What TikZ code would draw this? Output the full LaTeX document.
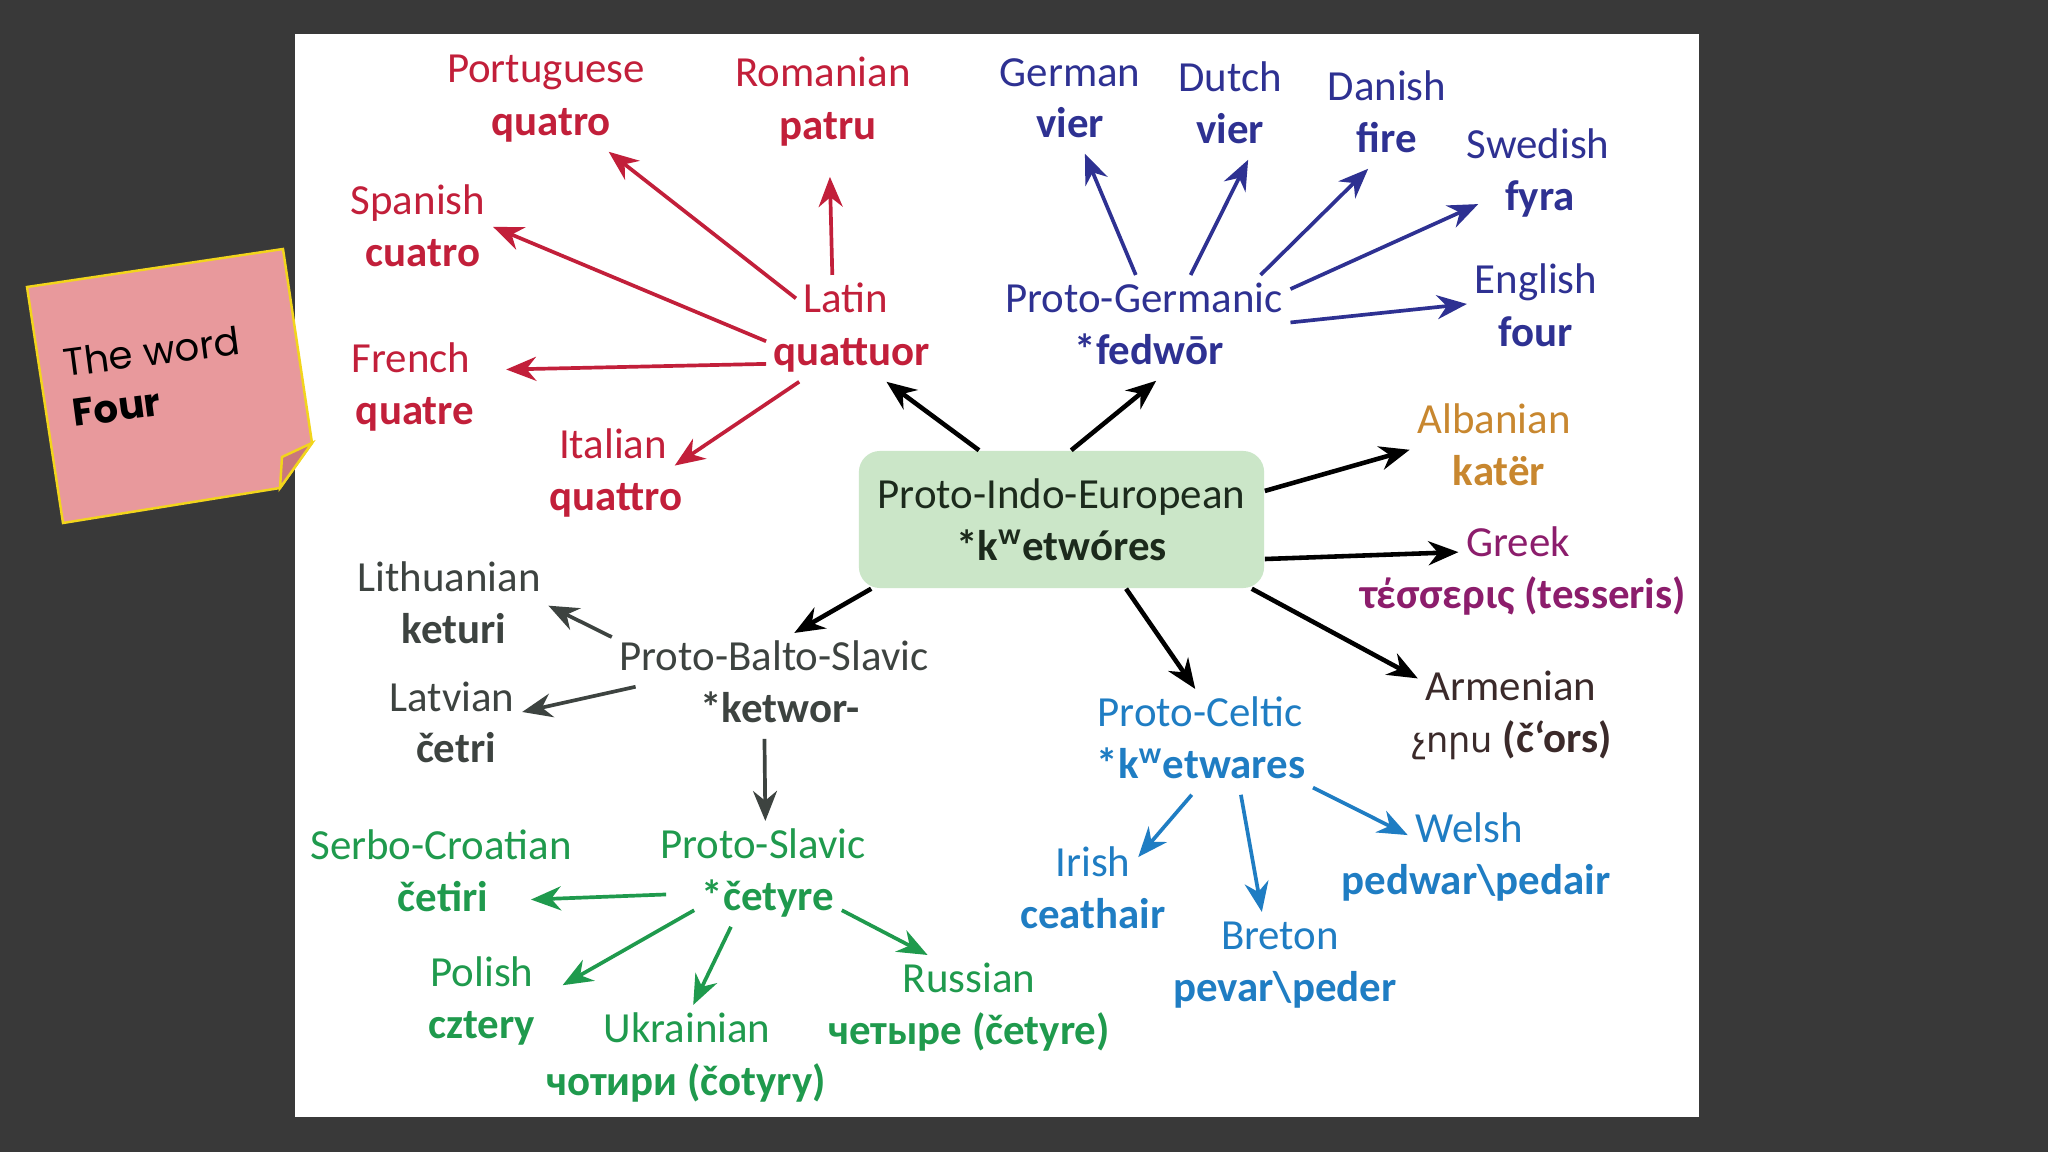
\documentclass[tikz,border=0pt]{standalone}
\usepackage{fontspec}
\setmainfont{Carlito}
\newfontfamily\armfont{DejaVu Sans}
\newfontfamily\notefont{Poppins}
\usetikzlibrary{arrows.meta}

\definecolor{bgcol}{HTML}{393939}
\definecolor{romred}{HTML}{C21F3A}
\definecolor{germ}{HTML}{2E3192}
\definecolor{celt}{HTML}{1F7DC3}
\definecolor{slav}{HTML}{1F9A4D}
\definecolor{balt}{HTML}{3D4340}
\definecolor{albcol}{HTML}{C8872F}
\definecolor{grecol}{HTML}{8C1D6C}
\definecolor{armcol}{HTML}{3B2A2A}
\definecolor{piefill}{HTML}{CBE6C8}
\definecolor{pietext}{HTML}{1C2A1C}
\definecolor{notefill}{HTML}{E8999C}
\definecolor{notefold}{HTML}{C9787C}
\definecolor{noteedge}{HTML}{F2D51C}

\begin{document}
\begin{tikzpicture}[x=0.01cm, y=-0.01cm,
    lang/.style={text=#1, font=\fontsize{12.2}{14.8}\selectfont,
        text height=8.5pt, text depth=2.4pt, inner sep=2pt, yshift=-1.1pt},
    word/.style={lang=#1, font=\fontsize{12.2}{14.8}\selectfont\bfseries},
    arr/.style={-{Stealth[length=3mm, width=2.4mm]}, line width=1.05pt, #1},
    blk/.style={arr=black, line width=1.3pt},
    pie/.style={fill=piefill, rounded corners=6pt, minimum width=4.05cm,
        minimum height=1.37cm, align=center, text=pietext, inner sep=0pt,
        font=\fontsize{12.2}{14.8}\selectfont},
    notetxt/.style={anchor=base west, rotate=7.5, inner sep=0pt,
        font=\notefont\fontsize{11}{13}\selectfont}]

    % slide and panel
    \fill[bgcol] (0,0) rectangle (2048,1152);
    \fill[white] (295,34) rectangle (1699,1117);

    % sticky note
    \filldraw[fill=notefill, draw=noteedge, line width=0.7pt]
        (27,287) -- (283,249) -- (312,443) -- (280,488) -- (63,523) -- cycle;
    \filldraw[fill=notefold, draw=noteedge, line width=0.7pt]
        (312,443) -- (282,457) -- (280,488) -- cycle;
    \node[notetxt] (note1) at (65,377) {The word};
    \node[notetxt, font=\notefont\fontsize{11}{13}\selectfont\bfseries]
        (note2) at (74,427) {Four};

    \node[pie] (pie) at (1061.5,519.5)
        {Proto-Indo-European\\\textbf{*k\textsuperscript{w}etwóres}};

    % Romance
    \node[lang=romred] (lat) at (846,298) {Latin};
    \node[word=romred] (latw) at (852,351) {quattuor};
    \node[lang=romred] (por) at (546,68) {Portuguese};
    \node[word=romred] (porw) at (551,121) {quatro};
    \node[lang=romred] (rom) at (823,72) {Romanian};
    \node[word=romred] (romw) at (828,125) {patru};
    \node[lang=romred] (spa) at (418,200) {Spanish};
    \node[word=romred] (spaw) at (423,252) {cuatro};
    \node[lang=romred] (fre) at (411,358) {French};
    \node[word=romred] (frew) at (415,410) {quatre};
    \node[lang=romred] (ita) at (613,444) {Italian};
    \node[word=romred] (itaw) at (616,496) {quattro};

    % Germanic
    \node[lang=germ] (pgm) at (1144,298) {Proto-Germanic};
    \node[word=germ] (pgmw) at (1149,350) {*fedwōr};
    \node[lang=germ] (ger) at (1070,72) {German};
    \node[word=germ] (gerw) at (1070,123) {vier};
    \node[lang=germ] (dut) at (1230,77) {Dutch};
    \node[word=germ] (dutw) at (1230,129) {vier};
    \node[lang=germ] (dan) at (1387,86) {Danish};
    \node[word=germ] (danw) at (1387,138) {fire};
    \node[lang=germ] (swe) at (1538,144) {Swedish};
    \node[word=germ] (swew) at (1540,196) {fyra};
    \node[lang=germ] (eng) at (1536,279) {English};
    \node[word=germ] (engw) at (1536,332) {four};

    % Albanian, Greek, Armenian
    \node[lang=albcol] (alb) at (1494,419) {Albanian};
    \node[word=albcol] (albw) at (1499,471) {katër};
    \node[lang=grecol] (gre) at (1518,542) {Greek};
    \node[word=grecol] (grew) at (1523,594) {τέσσερις (tesseris)};
    \node[lang=armcol] (arm) at (1511,686) {Armenian};
    \node[word=armcol] (armw) at (1512,738)
        {{\armfont\mdseries\fontsize{10}{12}\selectfont չորս} (č‘ors)};

    % Celtic
    \node[lang=celt] (pcl) at (1200,712) {Proto-Celtic};
    \node[word=celt] (pclw) at (1201,764) {*k\textsuperscript{w}etwares};
    \node[lang=celt] (iri) at (1093,862) {Irish};
    \node[word=celt] (iriw) at (1093,914) {ceathair};
    \node[lang=celt] (bre) at (1280,935) {Breton};
    \node[word=celt] (brew) at (1285,987) {pevar\textbackslash peder};
    \node[lang=celt] (wel) at (1469,828) {Welsh};
    \node[word=celt] (welw) at (1476,880) {pedwar\textbackslash pedair};

    % Balto-Slavic
    \node[lang=balt] (pbs) at (774,656) {Proto-Balto-Slavic};
    \node[word=balt] (pbsw) at (780,708) {*ketwor-};
    \node[lang=balt] (lit) at (449,577) {Lithuanian};
    \node[word=balt] (litw) at (454,629) {keturi};
    \node[lang=balt] (lav) at (452,697) {Latvian};
    \node[word=balt] (lavw) at (456,748) {četri};

    % Slavic
    \node[lang=slav] (psl) at (763,844) {Proto-Slavic};
    \node[word=slav] (pslw) at (768,896) {*četyre};
    \node[lang=slav] (src) at (441,845) {Serbo-Croatian};
    \node[word=slav] (srcw) at (443,897) {četiri};
    \node[lang=slav] (pol) at (482,972) {Polish};
    \node[word=slav] (polw) at (482,1024) {cztery};
    \node[lang=slav] (ukr) at (687,1028) {Ukrainian};
    \node[word=slav] (ukrw) at (686,1081) {чотири (čotyry)};
    \node[lang=slav] (rus) at (969,978) {Russian};
    \node[word=slav] (rusw) at (969,1030) {четыре (četyre)};

    % arrows
    \draw[blk] (pie.140) -- (latw.-38);
    \draw[blk] (pie.82) -- (pgmw.-75);
    \draw[blk] (pie.8) -- (alb.south west);
    \draw[blk] (pie.-11) -- (gre.186);
    \draw[blk] (pie.-20) -- (arm.173);
    \draw[blk] (pie.-47) -- (pcl.100);
    \draw[blk] (pie.200) -- (pbs.53);

    \draw[arr=romred] (lat.176) -- (porw.-25);
    \draw[arr=romred, shorten >=6pt] (lat.117) -- (romw.-87);
    \draw[arr=romred] (latw.171) -- (spa.-17);
    \draw[arr=romred, shorten >=8pt] (latw.186) -- (fre.-7);
    \draw[arr=romred] (latw.207) -- (ita.-16);

    \draw[arr=germ] (pgm.107) -- (gerw.-61);
    \draw[arr=germ] (pgm.30) -- (dutw.-56);
    \draw[arr=germ] (pgm.13) -- (danw.-125);
    \draw[arr=germ, shorten >=6pt] (pgm.5) -- (swew.174);
    \draw[arr=germ] (pgm.-8) -- (eng.197);

    \draw[arr=celt] (pclw.-109) -- (iri.11);
    \draw[arr=celt] (pclw.-34) -- (bre.124);
    \draw[arr=celt] (pclw.-10) -- (wel.183);

    \draw[arr=balt] (pbs.172) -- (lit.-14);
    \draw[arr=balt] (pbs.191) -- (lav.-9);
    \draw[arr=balt] (pbsw.-120) -- (psl.85);

    \draw[arr=slav, shorten <=8pt, shorten >=10pt] (pslw.175) -- (srcw.0);
    \draw[arr=slav, shorten >=7pt] (pslw.188) -- (pol.-20);
    \draw[arr=slav] (pslw.-144) -- (ukr.77);
    \draw[arr=slav] (pslw.-8) -- (rus.147);
\end{tikzpicture}
\end{document}
